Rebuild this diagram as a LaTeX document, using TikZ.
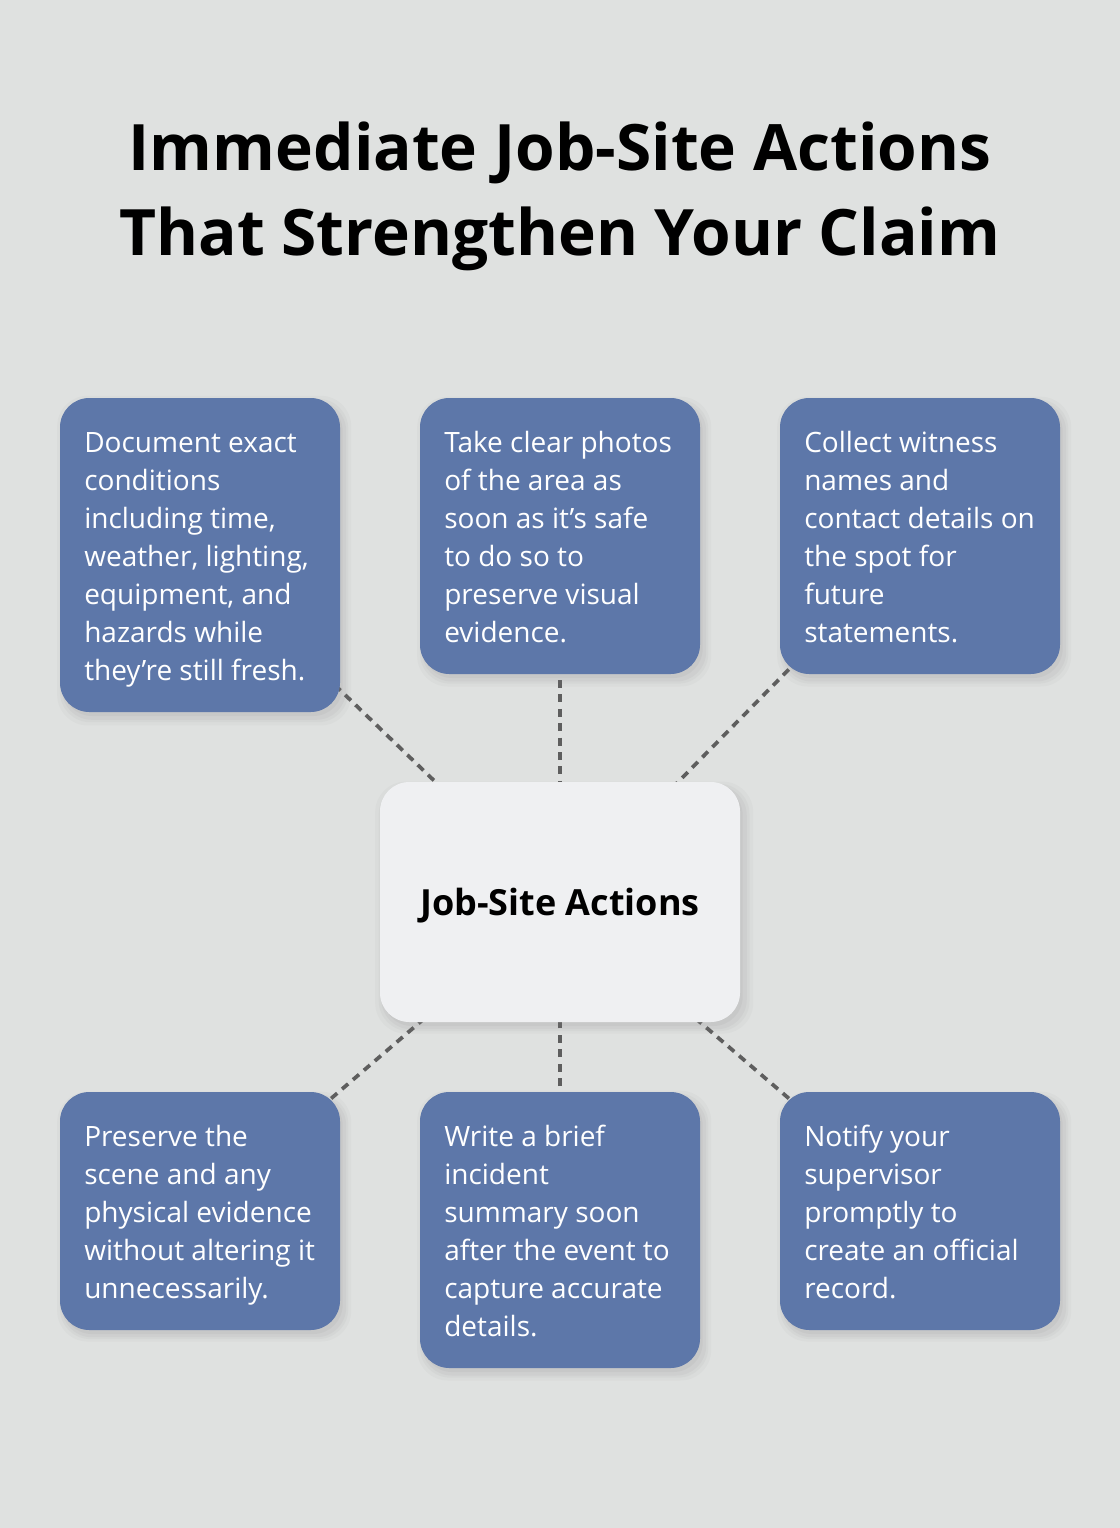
\documentclass[tikz,border=0pt]{standalone}
\usepackage{fontspec}
\setmainfont{Open Sans}
\usetikzlibrary{shadows}
\definecolor{bgc}{HTML}{DFE1E0}
\definecolor{cardc}{HTML}{5D77A9}
\definecolor{centerc}{HTML}{EFF0F2}
\definecolor{linec}{HTML}{5E5E5E}
\pgfdeclarelayer{back}
\pgfsetlayers{back,main}
\newcommand\firstline{\rule{0pt}{20pt}}
\tikzset{
  shad/.style={
    drop shadow={shadow xshift=3pt, shadow yshift=-4pt, opacity=0.05, shadow scale=1.05},
    drop shadow={shadow xshift=3pt, shadow yshift=-4pt, opacity=0.06, shadow scale=1.03},
    drop shadow={shadow xshift=3pt, shadow yshift=-4pt, opacity=0.07, shadow scale=1.015},
    drop shadow={shadow xshift=2pt, shadow yshift=-3pt, opacity=0.08, shadow scale=1.0}},
  card/.style={shad, fill=cardc, rounded corners=22pt, inner sep=0pt, outer sep=0pt, minimum width=210pt},
  hub/.style={shad, fill=centerc, rounded corners=22pt, inner sep=0pt, outer sep=0pt, minimum width=270pt, minimum height=180pt,
    text height=19.5pt, text depth=0pt, font=\fontsize{27}{32}\selectfont\bfseries},
  cardtext/.style={anchor=north west, align=left, inner sep=0pt, text=white, font=\fontsize{21}{28.5}\selectfont},
  link/.style={draw=linec, line width=2.8pt, dash pattern=on 6pt off 4.8pt},
  title/.style={align=center, inner sep=0pt, font=\fontsize{48}{63.75}\selectfont\bfseries}
}
\begin{document}
\begin{tikzpicture}[x=0.75pt,y=-0.75pt]
\useasboundingbox (0,0) rectangle (1120,1528);
\begin{pgfonlayer}{back}
\fill[bgc] (0,0) rectangle (1120,1528);
\end{pgfonlayer}

\node[title, anchor=base] (t) at (560,255) {Immediate Job-Site Actions\\That Strengthen Your Claim};

\node[card, minimum height=235.5pt] (a) at (200,555) {};
\node[card, minimum height=207pt] (b) at (560,536) {};
\node[card, minimum height=207pt] (c) at (920,536) {};
\node[card, minimum height=178.5pt] (d) at (200,1211) {};
\node[card, minimum height=207pt] (e) at (560,1230) {};
\node[card, minimum height=178.5pt] (f) at (920,1211) {};
\node[hub] (h) at (560,902) {Job-Site Actions};

\node[cardtext] (ta) at (84,425.33) {\firstline Document exact\\conditions\\including time,\\weather, lighting,\\equipment, and\\hazards while\\they’re still fresh.};
\node[cardtext] (tb) at (444,425.33) {\firstline Take clear photos\\of the area as\\soon as it’s safe\\to do so to\\preserve visual\\evidence.};
\node[cardtext] (tc) at (804,425.33) {\firstline Collect witness\\names and\\contact details on\\the spot for\\future\\statements.};
\node[cardtext] (td) at (84,1119.33) {\firstline Preserve the\\scene and any\\physical evidence\\without altering it\\unnecessarily.};
\node[cardtext] (te) at (444,1119.33) {\firstline Write a brief\\incident\\summary soon\\after the event to\\capture accurate\\details.};
\node[cardtext] (tf) at (804,1119.33) {\firstline Notify your\\supervisor\\promptly to\\create an official\\record.};

\begin{pgfonlayer}{back}
\draw[link] (a.center) -- (h.center);
\draw[link] (b.center) -- (h.center);
\draw[link] (c.center) -- (h.center);
\draw[link] (d.center) -- (h.center);
\draw[link] (e.center) -- (h.center);
\draw[link] (f.center) -- (h.center);
\end{pgfonlayer}
\end{tikzpicture}
\end{document}
